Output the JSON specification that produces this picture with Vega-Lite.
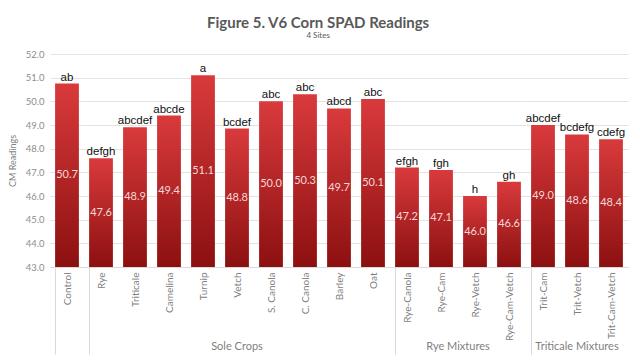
{
  "$schema": "https://vega.github.io/schema/vega-lite/v6.json",
  "padding": {"left": 8, "top": 16, "right": 5, "bottom": 0},
  "background": "white",
  "bounds": "flush",
  "title": {
    "text": "Figure 5. V6 Corn SPAD Readings",
    "subtitle": "4 Sites",
    "font": "Lato",
    "fontSize": 15,
    "fontWeight": "bold",
    "color": "#595959",
    "subtitleFont": "Lato",
    "subtitleFontSize": 8,
    "subtitleColor": "#595959",
    "subtitlePadding": 1,
    "anchor": "middle",
    "offset": 9
  },
  "data": {
    "values": [
      {"crop": "Control", "group": "Control", "value": 50.75, "label": "50.7", "sig": "ab"},
      {"crop": "Rye", "group": "Sole Crops", "value": 47.6, "label": "47.6", "sig": "defgh"},
      {"crop": "Triticale", "group": "Sole Crops", "value": 48.9, "label": "48.9", "sig": "abcdef"},
      {"crop": "Camelina", "group": "Sole Crops", "value": 49.4, "label": "49.4", "sig": "abcde"},
      {"crop": "Turnip", "group": "Sole Crops", "value": 51.1, "label": "51.1", "sig": "a"},
      {"crop": "Vetch", "group": "Sole Crops", "value": 48.85, "label": "48.8", "sig": "bcdef"},
      {"crop": "S. Canola", "group": "Sole Crops", "value": 50.0, "label": "50.0", "sig": "abc"},
      {"crop": "C. Canola", "group": "Sole Crops", "value": 50.3, "label": "50.3", "sig": "abc"},
      {"crop": "Barley", "group": "Sole Crops", "value": 49.7, "label": "49.7", "sig": "abcd"},
      {"crop": "Oat", "group": "Sole Crops", "value": 50.1, "label": "50.1", "sig": "abc"},
      {"crop": "Rye-Canola", "group": "Rye Mixtures", "value": 47.2, "label": "47.2", "sig": "efgh"},
      {"crop": "Rye-Cam", "group": "Rye Mixtures", "value": 47.1, "label": "47.1", "sig": "fgh"},
      {"crop": "Rye-Vetch", "group": "Rye Mixtures", "value": 46.0, "label": "46.0", "sig": "h"},
      {"crop": "Rye-Cam-Vetch", "group": "Rye Mixtures", "value": 46.6, "label": "46.6", "sig": "gh"},
      {"crop": "Trit-Cam", "group": "Triticale Mixtures", "value": 49.0, "label": "49.0", "sig": "abcdef"},
      {"crop": "Trit-Vetch", "group": "Triticale Mixtures", "value": 48.6, "label": "48.6", "sig": "bcdefg"},
      {"crop": "Trit-Cam-Vetch", "group": "Triticale Mixtures", "value": 48.4, "label": "48.4", "sig": "cdefg"}
    ]
  },
  "facet": {
    "column": {
      "field": "group",
      "type": "nominal",
      "sort": ["Control", "Sole Crops", "Rye Mixtures", "Triticale Mixtures"],
      "title": null,
      "header": {
        "labelOrient": "bottom",
        "labelExpr": "datum.value == 'Control' ? '' : datum.value",
        "labelFont": "Lato",
        "labelFontSize": 11,
        "labelColor": "#7f7f7f",
        "labelPadding": 74
      }
    }
  },
  "spacing": 0,
  "resolve": {"scale": {"x": "independent"}},
  "spec": {
    "width": {"step": 34},
    "height": 213,
    "encoding": {
      "x": {
        "field": "crop",
        "type": "nominal",
        "sort": null,
        "scale": {"paddingInner": 0.3, "paddingOuter": 0.15},
        "axis": {
          "title": null,
          "labelAngle": -90,
          "labelFont": "Lato",
          "labelFontSize": 10,
          "labelColor": "#7f7f7f",
          "labelPadding": -82,
          "domainColor": "#d9d9d9",
          "tickBand": "extent",
          "tickSize": 87,
          "tickColor": "#d9d9d9",
          "tickOpacity": {"condition": {"test": "datum.extra", "value": 1}, "value": 0}
        }
      }
    },
    "layer": [
      {
        "mark": {
          "type": "bar",
          "clip": true,
          "color": {
            "gradient": "linear",
            "x1": 0, "y1": 0, "x2": 0, "y2": 1,
            "stops": [
              {"offset": 0, "color": "#d93a3c"},
              {"offset": 1, "color": "#8c1010"}
            ]
          }
        },
        "encoding": {
          "y": {
            "field": "value",
            "type": "quantitative",
            "scale": {"domain": [43, 52], "zero": false, "nice": false},
            "axis": {
              "title": "CM Readings",
              "titleFont": "Lato",
              "titleFontSize": 9,
              "titleFontWeight": "normal",
              "titleColor": "#7f7f7f",
              "titlePadding": 8,
              "values": [43, 44, 45, 46, 47, 48, 49, 50, 51, 52],
              "tickCount": 10,
              "format": ".1f",
              "labelFont": "Lato",
              "labelFontSize": 9.5,
              "labelColor": "#8c8c8c",
              "labelOverlap": false,
              "domain": false,
              "ticks": false,
              "labelPadding": 6,
              "gridColor": "#e3e3e3"
            }
          },
          "y2": {"datum": 43}
        }
      },
      {
        "mark": {"type": "text", "baseline": "bottom", "dy": -1, "font": "Liberation Sans", "fontSize": 11.5, "color": "#111111"},
        "encoding": {
          "y": {
            "field": "value",
            "type": "quantitative",
            "axis": {
              "title": "CM Readings",
              "titleFont": "Lato",
              "titleFontSize": 9,
              "titleFontWeight": "normal",
              "titleColor": "#7f7f7f",
              "titlePadding": 8,
              "values": [43, 44, 45, 46, 47, 48, 49, 50, 51, 52],
              "tickCount": 10,
              "format": ".1f",
              "labelFont": "Lato",
              "labelFontSize": 9.5,
              "labelColor": "#8c8c8c",
              "labelOverlap": false,
              "domain": false,
              "ticks": false,
              "labelPadding": 6,
              "gridColor": "#e3e3e3"
            }
          },
          "text": {"field": "sig"}
        }
      },
      {
        "mark": {"type": "text", "baseline": "middle", "font": "Lato", "fontSize": 11, "color": "#f6d8d8"},
        "encoding": {
          "y": {"datum": 43, "type": "quantitative"},
          "yOffset": {"field": "value", "type": "quantitative", "scale": {"domain": [43, 61], "range": [0, -213], "zero": false, "nice": false}},
          "text": {"field": "label"}
        }
      }
    ]
  },
  "config": {
    "view": {"stroke": null}
  }
}
